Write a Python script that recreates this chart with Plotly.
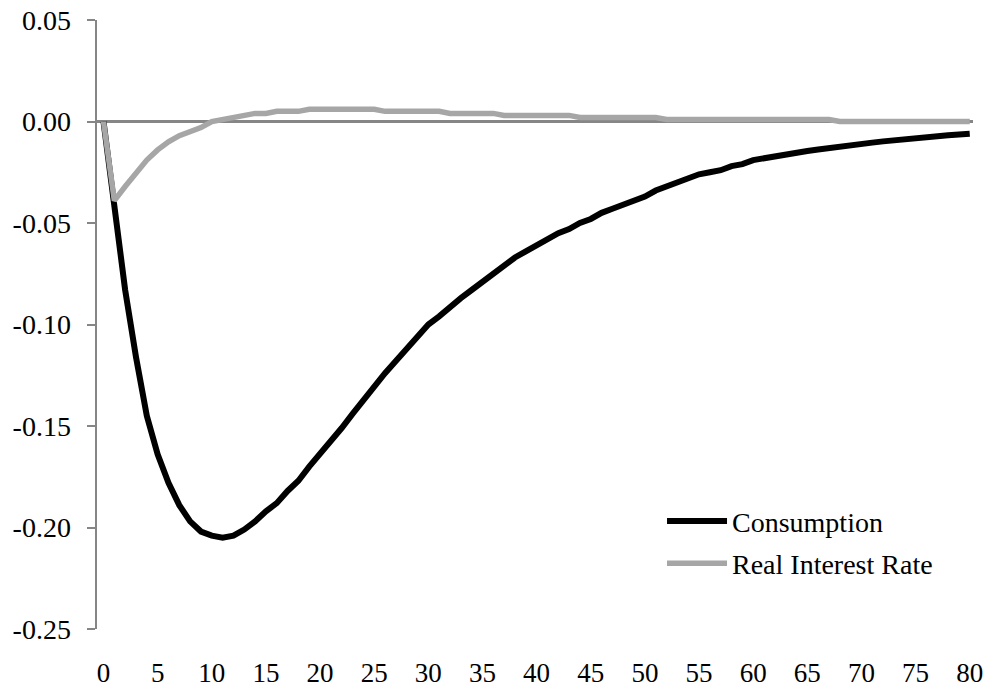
import plotly.graph_objects as go

periods = list(range(0, 81))

consumption = [
    0.0, -0.040, -0.083, -0.116, -0.145, -0.164, -0.178, -0.189, -0.197, -0.202,
    -0.204, -0.205, -0.204, -0.201, -0.197, -0.192, -0.188, -0.182, -0.177, -0.170,
    -0.164, -0.158, -0.151, -0.144, -0.137, -0.130, -0.124, -0.118, -0.112, -0.105,
    -0.100, -0.096, -0.091, -0.087, -0.083, -0.079, -0.075, -0.071, -0.067, -0.064,
    -0.061, -0.058, -0.055, -0.053, -0.050, -0.048, -0.045, -0.043, -0.041, -0.039,
    -0.037, -0.034, -0.032, -0.030, -0.028, -0.026, -0.025, -0.024, -0.022, -0.021,
    -0.019, -0.018, -0.017, -0.016, -0.015, -0.0145, -0.0138, -0.013, -0.0122, -0.0116,
    -0.011, -0.0104, -0.0098, -0.0092, -0.0086, -0.0081, -0.0076, -0.0072, -0.0068, -0.0064,
    -0.006,
]

real_interest_rate = [
    0.0, -0.039, -0.032, -0.025, -0.019, -0.014, -0.010, -0.007, -0.005, -0.003,
    0.000, 0.001, 0.002, 0.003, 0.004, 0.004, 0.005, 0.005, 0.005, 0.006,
    0.006, 0.006, 0.006, 0.006, 0.006, 0.006, 0.005, 0.005, 0.005, 0.005,
    0.005, 0.005, 0.004, 0.004, 0.004, 0.004, 0.004, 0.003, 0.003, 0.003,
    0.003, 0.003, 0.003, 0.003, 0.002, 0.002, 0.002, 0.002, 0.002, 0.002,
    0.002, 0.002, 0.001, 0.001, 0.001, 0.001, 0.001, 0.001, 0.001, 0.001,
    0.001, 0.001, 0.001, 0.001, 0.001, 0.001, 0.001, 0.001, 0.000, 0.000,
    0.000, 0.000, 0.000, 0.000, 0.000, 0.000, 0.000, 0.000, 0.000, 0.000,
    0.000,
]

y_ticks = [0.05, 0.0, -0.05, -0.10, -0.15, -0.20, -0.25]
y_tick_labels = ["0.05", "0.00", "-0.05", "-0.10", "-0.15", "-0.20", "-0.25"]
x_ticks = list(range(0, 81, 5))

FONT = "Liberation Serif, Times New Roman, serif"
AXIS_GRAY = "#868686"

fig = go.Figure()
fig.add_trace(go.Scatter(
    x=periods, y=consumption, mode="lines", name="Consumption",
    line=dict(color="#000000", width=6), legendgroup="a",
))
fig.add_trace(go.Scatter(
    x=periods, y=real_interest_rate, mode="lines", name="Real Interest Rate",
    line=dict(color="#A6A6A6", width=5.5), legendgroup="b",
))

fig.update_layout(
    width=983, height=689,
    margin=dict(l=97, r=10, t=20, b=60, autoexpand=False),
    paper_bgcolor="white", plot_bgcolor="white",
    font=dict(family=FONT, size=28, color="black"),
    showlegend=True,
    legend=dict(
        x=0.645, y=0.218, xanchor="left", yanchor="top",
        bgcolor="rgba(0,0,0,0)", font=dict(family=FONT, size=28, color="black"),
        tracegroupgap=3, itemwidth=60,
    ),
    xaxis=dict(
        range=[-0.6, 80.3], tickvals=x_ticks, showgrid=False, zeroline=False,
        showline=False, ticks="", ticklabelstandoff=25, automargin=False,
        ticklabeloverflow="allow", tickfont=dict(size=27),
    ),
    yaxis=dict(
        range=[-0.25, 0.05], tickvals=y_ticks, ticktext=y_tick_labels,
        showgrid=False, zeroline=True, zerolinecolor=AXIS_GRAY, zerolinewidth=2.5,
        showline=True, linecolor=AXIS_GRAY, linewidth=2.5,
        ticks="outside", ticklen=8, tickwidth=2, tickcolor=AXIS_GRAY,
        ticklabelstandoff=10, automargin=False,
    ),
)

fig.write_html(
    "out.html",
    config={"displayModeBar": False, "staticPlot": True},
    post_script="document.body.style.margin='0';document.body.style.overflow='hidden';",
)
